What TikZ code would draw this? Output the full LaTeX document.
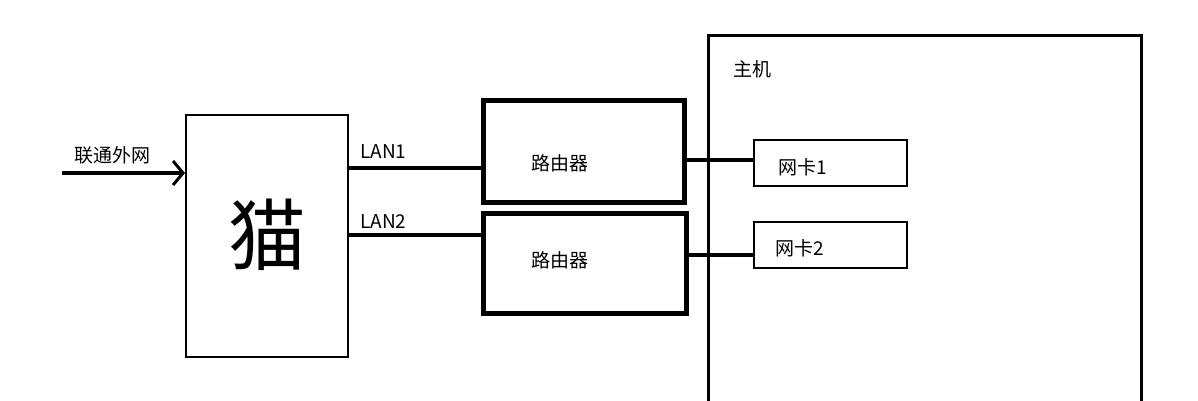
\documentclass[tikz,border=0pt]{standalone}
\usepackage{fontspec}
\setmainfont{Noto Sans CJK SC}
\usetikzlibrary{arrows.meta}
\begin{document}
\begin{tikzpicture}[x=1pt,y=-1pt,
  lbl/.style={font=\fontsize{19}{22}\selectfont,inner sep=0pt},
  thin box/.style={draw,line width=2.5pt},
  wire/.style={line width=4pt}]
\useasboundingbox (0,0) rectangle (1198,400);
\node[thin box,minimum width=162pt,minimum height=242pt,line width=2pt] (cat) at (267,236) {};
\node[font=\fontsize{78}{80}\selectfont,inner sep=0pt] (catt) at (267,235) {猫};
\coordinate (in) at (62,173);
\draw[wire,-{Straight Barb[length=10pt,width=24pt,line width=3pt]}] (in) -- (cat.west |- in);
\node[lbl] (ext) at (112,155) {联通外网};
\node[draw,line width=5pt,minimum width=201pt,minimum height=102pt] (r1) at (583.5,151) {};
\node[draw,line width=5pt,minimum width=203pt,minimum height=100pt] (r2) at (584.5,263) {};
\node[lbl] at (560,163) {路由器};
\node[lbl] at (560,260) {路由器};
\draw[wire] (cat.east |- 0,168) -- (r1.west |- 0,168);
\draw[wire] (cat.east |- 0,235) -- (r2.west |- 0,235);
\node[lbl,anchor=west] (l1) at (360,152) {LAN1};
\node[lbl,anchor=west] (l2) at (360,222) {LAN2};
\draw[line width=3pt] (708,420) -- (708,35) -- (1141,35) -- (1141,420);
\node[lbl] (host) at (752,69) {主机};
\node[thin box,minimum width=153pt,minimum height=46pt] (n1) at (830.5,163) {};
\node[thin box,minimum width=153pt,minimum height=46pt] (n2) at (830.5,245) {};
\node[lbl] at (803,167) {网卡1};
\node[lbl] at (800,248) {网卡2};
\draw[wire] (r1.east |- 0,160) -- (n1.west |- 0,160);
\draw[wire] (r2.east |- 0,255) -- (n2.west |- 0,255);
\end{tikzpicture}
\end{document}
